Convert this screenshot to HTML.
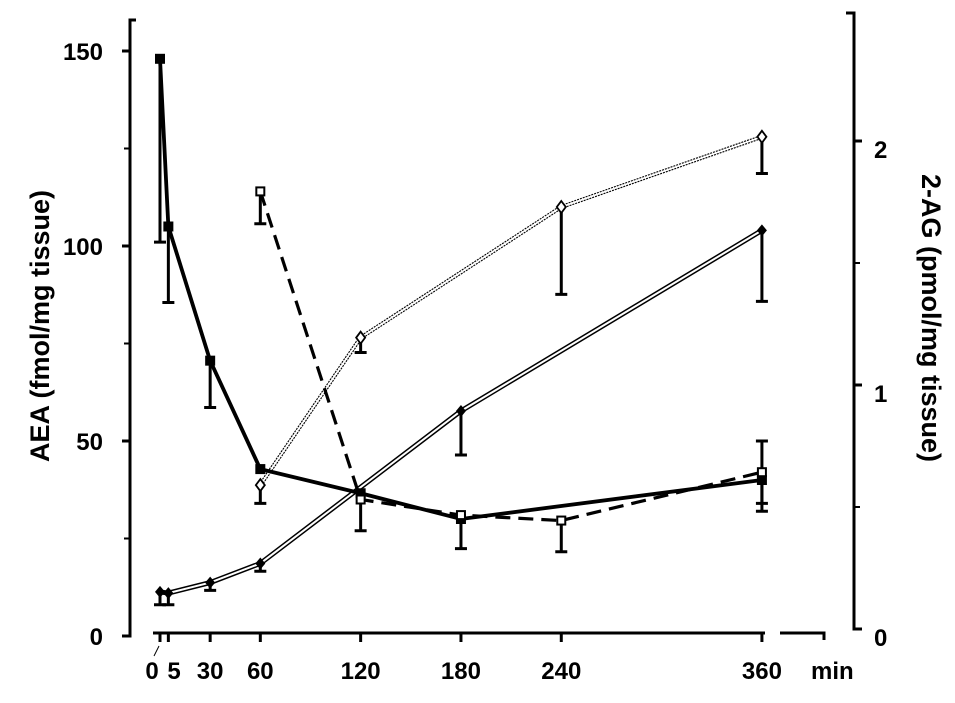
<!DOCTYPE html>
<html><head><meta charset="utf-8"><style>
html,body{margin:0;padding:0;background:#fff}
svg text{font-family:"Liberation Sans",Arial,sans-serif;font-weight:bold;fill:#000}
</style></head><body>
<svg width="955" height="698" viewBox="0 0 955 698">
<g id="axes"></g>
<g id="marks"></g>
</svg>
<script>
const times = [0,5,30,60,120,180,240,360];
const xTickLabels = ["0","5","30","60","120","180","240","360"];
const yTicksLeft = [0,50,100,150];
const yMinorLeft = [25,75,125];
const yTicksRight = [0,1,2];
const yMinorRight = [0.5,1.5];
// series A: filled squares, thick solid
const sqT = [0,5,30,60,120,180,360];
const sqV = [148,105,70.6,42.8,36.6,30,40];
const sqErr = [47,19.5,12,0,9.6,7.6,8];
// series B: open squares, dashed
const osT = [60,120,180,240,360];
const osV = [114,35,31,29.6,42];
const osErr = [8.3,0,0,8,8];
// series C: open diamonds, dotted double line
const odT = [60,120,240,360];
const odV = [38.7,76.5,110,128];
const odErr = [4.7,3.8,22.4,9.4];
// series D: filled diamonds, double line
const fdT = [0,5,30,60,180,360];
const fdV = [11.3,11,13.7,18.6,57.7,104];
const fdErr = [3.3,3,2,2,11.3,18.2];

const NS="http://www.w3.org/2000/svg";
function x(t){return 160+t*1.672;}
function yL(v){return 636-v*3.9;}
function yR(v){return 629-v*244;}
function mk(parent,tag,attrs){const e=document.createElementNS(NS,tag);for(const k in attrs)e.setAttribute(k,attrs[k]);parent.appendChild(e);return e;}
const ax=document.getElementById('axes'), mg=document.getElementById('marks');

let e=mk(ax,'path',{d:`M136 20 H130 V636 H122`,stroke:'#000','stroke-width':3,fill:'none'});


yTicksLeft.forEach(v=>{
  let t=mk(ax,'line',{x1:122,x2:130,y1:yL(v),y2:yL(v),stroke:'#000','stroke-width':3});
  
  
  let l=mk(ax,'text',{x:103,y:yL(v)+9,'text-anchor':'end','font-size':24});
  l.textContent=v;
  
  
});
yMinorLeft.forEach(v=>{
  let t=mk(ax,'line',{x1:124,x2:130,y1:yL(v),y2:yL(v),stroke:'#000','stroke-width':2});
  
  
});
e=mk(ax,'path',{d:`M846 13 H854 V629 H861`,stroke:'#000','stroke-width':3,fill:'none'});


yTicksRight.forEach(v=>{
  let t=mk(ax,'line',{x1:854,x2:862,y1:yR(v),y2:yR(v),stroke:'#000','stroke-width':3});
  
  
  let l=mk(ax,'text',{x:874,y:yR(v)+17,'font-size':24});
  l.textContent=v;
  
  
});
yMinorRight.forEach(v=>{
  let t=mk(ax,'line',{x1:854,x2:860,y1:yR(v),y2:yR(v),stroke:'#000','stroke-width':2});
  
  
});
e=mk(ax,'path',{d:`M153 633 H765 M780 633 H824 V640`,stroke:'#000','stroke-width':3,fill:'none'});


e=mk(ax,'line',{x1:159,y1:646,x2:154,y2:656,stroke:'#000','stroke-width':1});


times.forEach((t,i)=>{
  let tk=mk(ax,'line',{x1:x(t),x2:x(t),y1:633,y2:642,stroke:'#000','stroke-width':3});
  
  
  let lx=x(t); if(t===0) lx=152; if(t===5) lx=174;
  let l=mk(ax,'text',{x:lx,y:679,'text-anchor':'middle','font-size':24});
  l.textContent=xTickLabels[i];
  
  
});
e=mk(ax,'text',{x:811,y:679,'font-size':24});e.textContent='min';


e=mk(ax,'text',{x:0,y:0,'font-size':27,'text-anchor':'middle',transform:'translate(49,326) rotate(-90)'});
e.textContent='AEA (fmol/mg tissue)';


e=mk(ax,'text',{x:0,y:0,'font-size':27,'text-anchor':'middle',transform:'translate(922,318) rotate(90)'});
e.textContent='2-AG (pmol/mg tissue)';



function pts(T,V){return T.map((t,i)=>x(t)+','+yL(V[i])).join(' ');}
function errs(T,V,E,name){
  T.forEach((t,i)=>{ if(!E[i])return;
    const X=x(t),y1=yL(V[i]),y2=yL(V[i]-E[i]);
    let p=mk(mg,'path',{d:`M${X} ${y1} V${y2} M${X-6} ${y2} H${X+6}`,stroke:'#000','stroke-width':3,fill:'none'});
    
    
  });
}
e=mk(mg,'polyline',{points:pts(fdT,fdV),stroke:'#000','stroke-width':5,fill:'none'});


e=mk(mg,'polyline',{points:pts(fdT,fdV),stroke:'#fff','stroke-width':2,fill:'none'});


errs(fdT,fdV,fdErr,'filled-diamond');
fdT.forEach((t,i)=>{const X=x(t),Y=yL(fdV[i]);
  let p=mk(mg,'path',{d:`M${X} ${Y-6} L${X+5} ${Y} L${X} ${Y+6} L${X-5} ${Y}Z`,fill:'#000'});
  
  });
e=mk(mg,'polyline',{points:pts(odT,odV),stroke:'#000','stroke-width':4,fill:'none','stroke-dasharray':'2 1'});


e=mk(mg,'polyline',{points:pts(odT,odV),stroke:'#fff','stroke-width':1.8,fill:'none'});


errs(odT,odV,odErr,'open-diamond');
odT.forEach((t,i)=>{const X=x(t),Y=yL(odV[i]);
  let p=mk(mg,'path',{d:`M${X} ${Y-6} L${X+4.5} ${Y} L${X} ${Y+6} L${X-4.5} ${Y}Z`,fill:'#fff',stroke:'#000','stroke-width':1.8});
  
  });
e=mk(mg,'polyline',{points:pts(osT,osV),stroke:'#000','stroke-width':3.2,fill:'none','stroke-dasharray':'15 8'});


errs(osT,osV,osErr,'open-square');
e=mk(mg,'polyline',{points:pts(sqT,sqV),stroke:'#000','stroke-width':3.8,fill:'none'});


errs(sqT,sqV,sqErr,'filled-square');
e=mk(mg,'path',{d:`M${x(360)} ${yL(42)} V${yL(50)} M${x(360)-6} ${yL(50)} H${x(360)+6}`,stroke:'#000','stroke-width':3,fill:'none'});


sqT.forEach((t,i)=>{const X=x(t),Y=yL(sqV[i]);
  let p=mk(mg,'rect',{x:X-5,y:Y-5,width:10,height:10,fill:'#000'});
  
  });
osT.forEach((t,i)=>{const X=x(t),Y=yL(osV[i]);
  let p=mk(mg,'rect',{x:X-4,y:Y-4,width:8,height:8,fill:'#fff',stroke:'#000','stroke-width':2});
  
  });
</script>
</body></html>
